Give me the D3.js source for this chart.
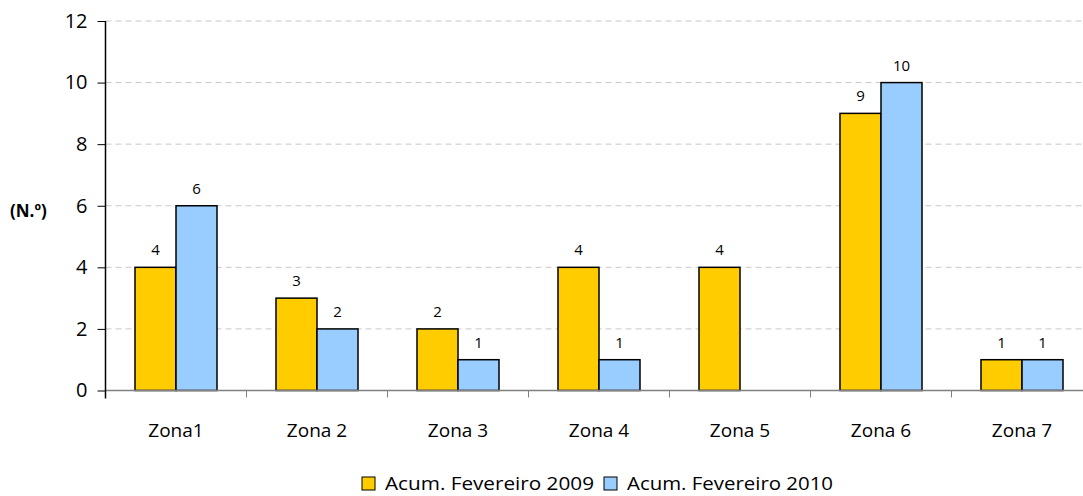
<!DOCTYPE html>
<html><head><meta charset="utf-8">
<script src="https://cdn.jsdelivr.net/npm/d3@7"></script>
<style>body{margin:0;background:#fff}svg{display:block;font-family:"Open Sans",sans-serif}</style>
</head><body><svg id="c" width="1083" height="496"></svg>
<script>
const categories = ["Zona1","Zona 2","Zona 3","Zona 4","Zona 5","Zona 6","Zona 7"];
const seriesNames = ["Acum. Fevereiro 2009","Acum. Fevereiro 2010"];
const values2009 = [4,3,2,4,4,9,1];
const values2010 = [6,2,1,1,null,10,1];
const yTicks = [0,2,4,6,8,10,12];
const colors = ["#FFCC00","#99CCFF"];

const svg = d3.select("#c");
const x0 = 105.5, x1 = 1092.5, yTop = 21, yBot = 390.5;
const x = d3.scaleBand().domain(categories).range([x0,x1]).paddingInner(0).paddingOuter(0);
const y = d3.scaleLinear().domain([0,12]).range([yBot,yTop]);
const barW = 41;

// gridlines
svg.append("g").selectAll("line").data(yTicks.filter(d=>d>0)).join("line")
  .attr("x1",x0).attr("x2",1083).attr("y1",d=>y(d)).attr("y2",d=>y(d))
  .attr("stroke","#c8c8c8").attr("stroke-width",1).attr("stroke-dasharray","6,4");

const data = [values2009, values2010];
data.forEach((vals,si)=>{
  const g = svg.append("g");
  categories.forEach((c,i)=>{
    const v = vals[i];
    if(v==null) return;
    const cx = x(c)+x.bandwidth()/2;
    const bx = si===0 ? cx-barW : cx;
    g.append("rect").attr("x",bx).attr("y",y(v)).attr("width",barW).attr("height",y(0)-y(v))
      .attr("fill",colors[si]).attr("stroke","#000").attr("stroke-width",1.5);
    g.append("text").attr("x",bx+barW/2).attr("y",y(v)-12).attr("text-anchor","middle")
      .attr("font-size",15).attr("fill","#000").text(v);
  });
});

// x axis
const xAxis = svg.append("g");
xAxis.append("line").attr("x1",x0).attr("x2",1083).attr("y1",yBot).attr("y2",yBot).attr("stroke","#808080").attr("stroke-width",1.5);
const bounds = categories.map(c=>x(c)).slice(1).concat([x1]);
xAxis.selectAll("line.t").data(bounds).join("line").attr("class","t")
  .attr("x1",d=>d).attr("x2",d=>d).attr("y1",yBot).attr("y2",yBot+7).attr("stroke","#808080").attr("stroke-width",1);
xAxis.selectAll("text").data(categories).join("text")
  .attr("x",d=>x(d)+x.bandwidth()/2).attr("y",437).attr("text-anchor","middle")
  .attr("font-size",19).attr("fill","#000").text(d=>d);

// y axis
const yAxis = d3.axisLeft(y).tickValues(yTicks).tickSize(8).tickPadding(10).tickFormat(d3.format("d"));
const ya = svg.append("g").attr("transform",`translate(${x0},0)`).call(yAxis);
ya.select(".domain").remove();
ya.append("line").attr("x1",0).attr("x2",0).attr("y1",yTop).attr("y2",yBot+8).attr("stroke","#000").attr("stroke-width",1.5);
ya.selectAll(".tick line").attr("stroke","#000").attr("stroke-width",1);
ya.selectAll(".tick text").attr("font-size",20).attr("fill","#000").attr("font-family","'Open Sans',sans-serif");

svg.append("text").attr("x",10).attr("y",217).attr("font-size",17).attr("font-weight","bold").text("(N.º)");

// legend
const leg = svg.append("g");
const legX = [362, 604];
seriesNames.forEach((n,i)=>{
  leg.append("rect").attr("x",legX[i]).attr("y",477).attr("width",13).attr("height",13)
    .attr("fill",colors[i]).attr("stroke","#000").attr("stroke-width",1);
  leg.append("text").attr("x",legX[i]+23).attr("y",490).attr("font-size",19).attr("fill","#000")
    .attr("textLength",i===0?209:206).attr("lengthAdjust","spacingAndGlyphs").text(n);
});
</script></body></html>
